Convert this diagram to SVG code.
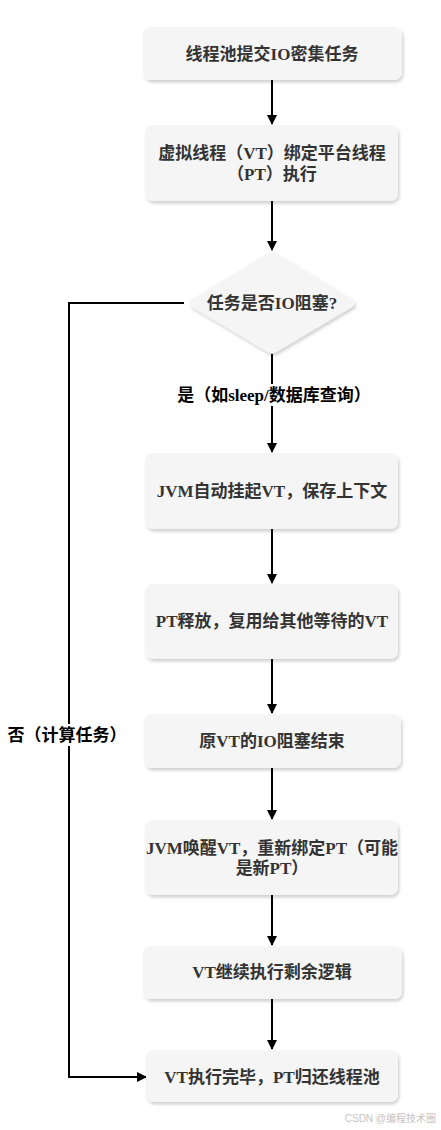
<svg xmlns="http://www.w3.org/2000/svg" width="441" height="1130" viewBox="0 0 441 1130">
<defs>
<filter id="sh" x="-10%" y="-10%" width="125%" height="135%">
<feDropShadow dx="1.5" dy="2.5" stdDeviation="1.5" flood-color="#000" flood-opacity="0.18"/>
</filter>
<marker id="ah" viewBox="0 0 10 10" refX="9" refY="5" markerWidth="5" markerHeight="5.5" orient="auto" markerUnits="strokeWidth">
<path d="M0,0 L10,5 L0,10 z" fill="#000"/>
</marker>
<style>
.box{fill:#f5f5f5;filter:url(#sh);}
.t{font-family:"Liberation Serif","Noto Sans CJK SC",serif;font-size:17px;font-weight:bold;fill:#333;text-anchor:middle;}
.lbl{font-family:"Liberation Serif","Noto Sans CJK SC",serif;font-size:17px;font-weight:bold;fill:#000;text-anchor:middle;}
.c{fill:none;stroke:#000;stroke-width:2;marker-end:url(#ah);}
.wm{font-family:"Liberation Sans","Noto Sans CJK SC",sans-serif;font-size:10px;fill:#c4c4c4;text-anchor:end;}
</style>
</defs>
<rect width="441" height="1130" fill="#fff"/>
<g id="connectors">
<path class="c" d="M272,80 V124"/>
<path class="c" d="M272,201 V250"/>
<path class="c" d="M272,354 V452"/>
<path class="c" d="M272,529 V583"/>
<path class="c" d="M272,659 V713"/>
<path class="c" d="M272,768 V819"/>
<path class="c" d="M272,895 V945"/>
<path class="c" d="M272,999 V1049"/>
<path class="c" d="M184,303 H69 V1077 H146"/>
</g>
<g id="n1"><rect class="box" x="143" y="27" width="259" height="53" rx="8"/><text class="t" x="272" y="60">线程池提交IO密集任务</text></g>
<g id="n2"><rect class="box" x="145" y="125" width="253" height="76" rx="8"/><text class="t" x="272" y="159">虚拟线程（VT）绑定平台线程</text><text class="t" x="272" y="180">（PT）执行</text></g>
<g id="n3"><path class="box" d="M266,254 Q272,251 278,254 L352,299 Q357,303 352,307 L278,351 Q272,355 266,351 L192,307 Q187,303 192,299 Z"/><text class="t" x="272" y="309">任务是否IO阻塞?</text></g>
<g id="n4"><rect class="box" x="145" y="453" width="253" height="76" rx="8"/><text class="t" x="272" y="497">JVM自动挂起VT，保存上下文</text></g>
<g id="n5"><rect class="box" x="145" y="584" width="253" height="75" rx="8"/><text class="t" x="272" y="627">PT释放，复用给其他等待的VT</text></g>
<g id="n6"><rect class="box" x="144" y="714" width="257" height="54" rx="8"/><text class="t" x="272" y="747">原VT的IO阻塞结束</text></g>
<g id="n7"><rect class="box" x="145" y="820" width="253" height="75" rx="8"/><text class="t" x="272" y="854">JVM唤醒VT，重新绑定PT（可能</text><text class="t" x="272" y="874">是新PT）</text></g>
<g id="n8"><rect class="box" x="143" y="946" width="259" height="53" rx="8"/><text class="t" x="272" y="978">VT继续执行剩余逻辑</text></g>
<g id="n9"><rect class="box" x="146" y="1050" width="252" height="52" rx="8"/><text class="t" x="272" y="1083">VT执行完毕，PT归还线程池</text></g>
<g id="labels">
<rect x="178" y="384" width="194" height="22" fill="#fff"/>
<text class="lbl" x="274" y="401">是（如sleep/数据库查询）</text>
<rect x="8" y="724" width="112" height="22" fill="#fff"/>
<text class="lbl" x="67" y="741">否（计算任务）</text>
</g>
<text class="wm" x="436" y="1122">CSDN @编程技术圈</text>
</svg>
